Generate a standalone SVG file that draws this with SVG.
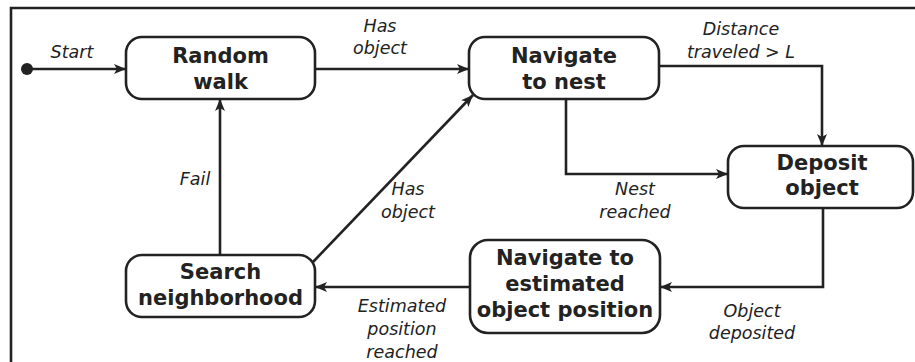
<svg xmlns="http://www.w3.org/2000/svg" width="915" height="362" viewBox="0 0 915 362">
<style>
.node rect{fill:#fff;stroke:#222;stroke-width:2.6}
.node text{font-family:"DejaVu Sans",sans-serif;font-weight:bold;font-size:21px;fill:#222;text-anchor:middle}
.lbl{font-family:"DejaVu Sans",sans-serif;font-style:italic;font-size:17.5px;fill:#222;text-anchor:middle}
.edge{fill:none;stroke:#222;stroke-width:2.6;marker-end:url(#ah)}
</style>
<defs>
<marker id="ah" viewBox="0 0 12 10" refX="12" refY="5" markerWidth="12" markerHeight="10" markerUnits="userSpaceOnUse" orient="auto">
<path d="M0,0 L12,5 L0,10 L3,5 Z" fill="#222"/>
</marker>
</defs>
<rect width="915" height="362" fill="#fff"/>
<path d="M11,362 V8 H915" fill="none" stroke="#222" stroke-width="2.6"/>
<g id="connectors">
<circle cx="27" cy="69" r="6" fill="#222"/>
<path class="edge" d="M27,69 H126"/>
<path class="edge" d="M315,69 H469"/>
<path class="edge" d="M659,66 H822 V146"/>
<path class="edge" d="M566,99 V174 H728"/>
<path class="edge" d="M823,208 V287 H660"/>
<path class="edge" d="M470,287 H315"/>
<path class="edge" d="M220,255 V99"/>
<path class="edge" d="M313,262 L473,95"/>
</g>
<g id="labels">
<text class="lbl" x="72" y="58">Start</text>
<text class="lbl" x="380" y="32">Has</text>
<text class="lbl" x="380" y="54">object</text>
<text class="lbl" x="741" y="35">Distance</text>
<text class="lbl" x="741" y="58">traveled &gt; L</text>
<text class="lbl" x="635" y="195">Nest</text>
<text class="lbl" x="635" y="218">reached</text>
<text class="lbl" x="195" y="185">Fail</text>
<text class="lbl" x="408" y="195">Has</text>
<text class="lbl" x="408" y="218">object</text>
<text class="lbl" x="752" y="317">Object</text>
<text class="lbl" x="752" y="339">deposited</text>
<text class="lbl" x="402" y="312">Estimated</text>
<text class="lbl" x="402" y="335">position</text>
<text class="lbl" x="402" y="358">reached</text>
</g>
<g id="random-walk" class="node">
<rect x="126" y="37" width="189" height="62" rx="16"/>
<text x="220.5" y="63">Random</text>
<text x="220.5" y="89">walk</text>
</g>
<g id="navigate-nest" class="node">
<rect x="469" y="37" width="190" height="62" rx="16"/>
<text x="564" y="63">Navigate</text>
<text x="564" y="89">to nest</text>
</g>
<g id="deposit" class="node">
<rect x="728" y="146" width="185" height="62" rx="16"/>
<text x="822" y="170">Deposit</text>
<text x="822" y="195">object</text>
</g>
<g id="navigate-estimated" class="node">
<rect x="470" y="240" width="190" height="93" rx="18"/>
<text x="565" y="265">Navigate to</text>
<text x="565" y="291">estimated</text>
<text x="565" y="317">object position</text>
</g>
<g id="search" class="node">
<rect x="126" y="255" width="189" height="62" rx="16"/>
<text x="220.5" y="279">Search</text>
<text x="220.5" y="305">neighborhood</text>
</g>
</svg>
